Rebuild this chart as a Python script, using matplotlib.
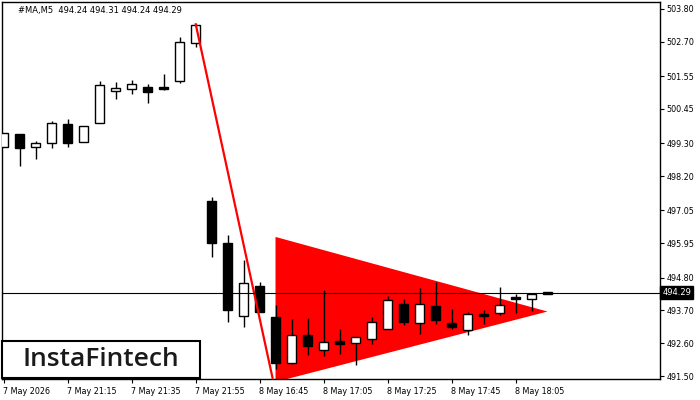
import numpy as np
import matplotlib
matplotlib.use("Agg")
import matplotlib.pyplot as plt
import matplotlib.transforms as mtransforms

plt.rcParams['font.family'] = ['DejaVu Sans']

# Candle data (M5 bars)
opens = [499.16, 499.60, 499.18, 499.29, 499.93, 499.33, 499.96, 501.06, 501.13, 501.17,
         501.15, 501.39, 502.67, 497.36, 495.94, 493.51, 494.50, 493.47, 491.93, 492.89,
         492.38, 492.66, 492.62, 492.75, 493.09, 493.90, 493.29, 493.83, 493.29, 493.05,
         493.58, 493.61, 494.12, 494.09, 494.24]
highs = [499.63, 499.60, 499.37, 500.04, 500.11, 499.86, 501.38, 501.35, 501.42, 501.27,
         501.62, 502.86, 503.30, 497.50, 496.24, 495.38, 494.65, 493.87, 493.40, 493.44,
         494.37, 493.09, 492.82, 493.47, 494.17, 494.09, 494.46, 494.65, 493.73, 493.65,
         493.70, 494.48, 494.24, 494.26, 494.31]
lows = [499.16, 498.54, 498.77, 499.15, 499.18, 499.33, 499.96, 500.79, 500.96, 500.66,
        501.09, 501.33, 502.53, 495.49, 493.31, 493.14, 493.64, 491.74, 491.89, 492.22,
        492.17, 492.25, 491.88, 492.58, 493.09, 493.20, 492.92, 493.25, 493.09, 492.86,
        493.23, 493.56, 493.61, 493.67, 494.24]
closes = [499.63, 499.15, 499.29, 499.96, 499.29, 499.86, 501.24, 501.14, 501.27, 501.02,
          501.12, 502.68, 503.26, 495.94, 493.72, 494.63, 493.64, 491.93, 492.89, 492.50,
          492.64, 492.58, 492.82, 493.32, 494.06, 493.31, 493.90, 493.37, 493.14, 493.59,
          493.52, 493.87, 494.07, 494.24, 494.29]

last_price = 494.29
header = "#MA,M5  494.24 494.31 494.24 494.29"

y_ticks = [503.80, 502.70, 501.55, 500.45, 499.30, 498.20, 497.05, 495.95, 494.80,
           493.70, 492.60, 491.50]
x_tick_pos = [0, 4, 8, 12, 16, 20, 24, 28, 32]
x_tick_labels = ["7 May 2026", "7 May 21:15", "7 May 21:35", "7 May 21:55", "8 May 16:45",
                 "8 May 17:05", "8 May 17:25", "8 May 17:45", "8 May 18:05"]

# pattern: impulse line and pennant (bar index, price)
pole_x = [12, 16.83]
pole_y = [503.32, 491.40]
pennant_x = [17, 34, 17]
pennant_y = [496.16, 493.66, 491.30]

fig = plt.figure(figsize=(7, 4), dpi=100)
ax = fig.add_axes([2 / 700, 1 - 379 / 400, 657.5 / 700, 377 / 400])

idx = np.arange(len(opens))
o = np.array(opens)
c = np.array(closes)

ax.fill(pennant_x, pennant_y, color='#ff0000', lw=0, zorder=1)

ax.vlines(idx, lows, highs, color='black', lw=1.0, zorder=2)
bottom = np.minimum(o, c)
height = np.maximum(np.abs(c - o), 0.07)
fills = ['white' if cl >= op else 'black' for op, cl in zip(opens, closes)]
ax.bar(idx, height, bottom=bottom, width=0.6, color=fills, edgecolor='black',
       linewidth=1.0, zorder=3)

ax.plot(pole_x, pole_y, color='#ff0000', lw=1.6, zorder=4, solid_capstyle='butt')
ax.axhline(last_price, color='black', lw=0.8, zorder=4)

ax.set_xlim(-0.094, 41.0)
ax.set_ylim(491.40, 504.03)

ax.yaxis.tick_right()
ax.set_yticks(y_ticks)
ax.set_yticklabels([f"{v:.2f}" for v in y_ticks])
ax.set_xticks(x_tick_pos)
ax.set_xticklabels(x_tick_labels, ha='left')
ax.tick_params(axis='both', direction='out', length=3, width=0.8, labelsize=5.8,
               colors='black', pad=2)
ax.tick_params(axis='x', pad=3)
for lab in ax.get_xticklabels():
    lab.set_transform(lab.get_transform() + mtransforms.ScaledTranslation(-1 / 100, 0, fig.dpi_scale_trans))
for s in ax.spines.values():
    s.set_linewidth(1.0)

# last price box on the axis
trans = mtransforms.blended_transform_factory(ax.transAxes, ax.transData)
ax.text(1.004, last_price, f"{last_price:.2f}", transform=trans, fontsize=6,
        color='white', va='center', ha='left', zorder=6, clip_on=False,
        bbox=dict(boxstyle='square,pad=0.25', fc='black', ec='black'))

ax.text(16 / 657.5, 1 - 9 / 377, header, transform=ax.transAxes, fontsize=6,
        color='black', va='center', ha='left')

# logo box
logo = plt.Rectangle((2 / 700, 1 - 378 / 400), 198 / 700, 37 / 400, transform=fig.transFigure,
                     fc='white', ec='black', lw=1.5, zorder=10)
fig.patches.append(logo)
fig.text(101 / 700, 1 - 360 / 400, "InstaFintech", fontsize=19, family='Open Sans',
         weight='semibold', color='#1a1a1a', ha='center', va='center', zorder=11)

fig.savefig("out.png", dpi=100)
